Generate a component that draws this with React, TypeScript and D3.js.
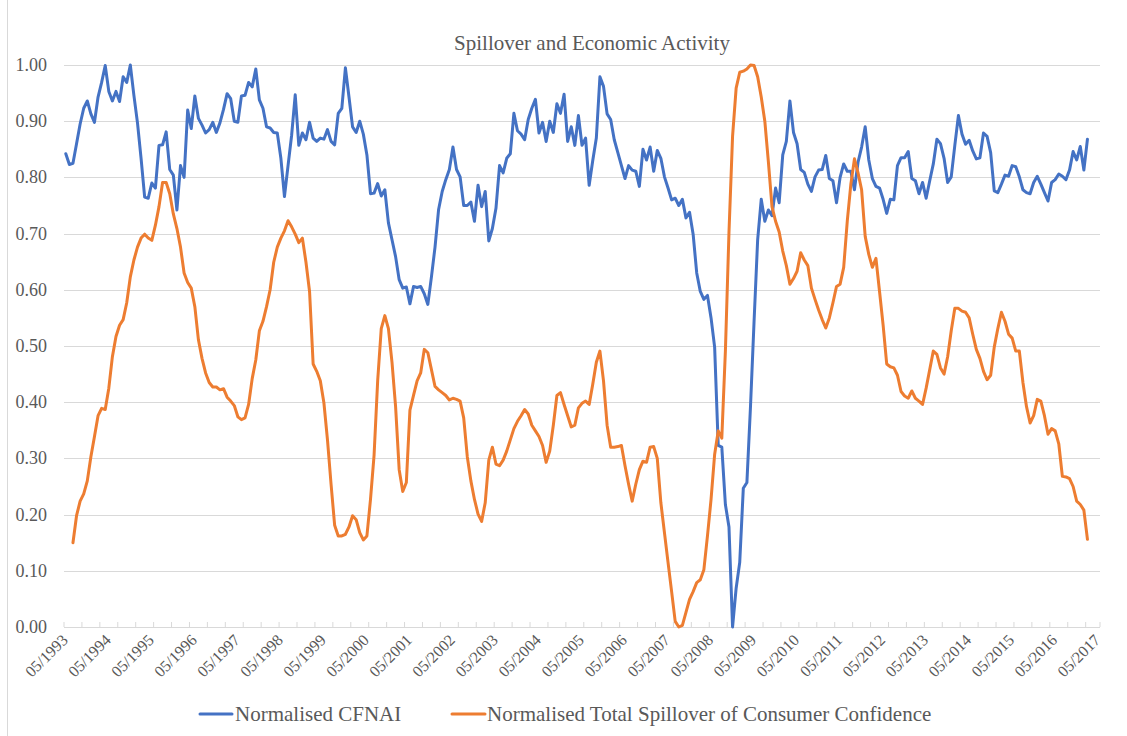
import React from 'react';
import * as d3 from 'd3';

// monthly, starting 05/1993 (index 0)
const cfnai = [
  0.842, 0.823, 0.825, 0.86, 0.895, 0.923, 0.936, 0.913, 0.898, 0.943,
  0.969, 0.999, 0.953, 0.936, 0.953, 0.935, 0.979, 0.969, 1.0, 0.946,
  0.897, 0.834, 0.765, 0.763, 0.79, 0.781, 0.857, 0.858, 0.881, 0.814,
  0.804, 0.742, 0.821, 0.8, 0.92, 0.887, 0.945, 0.905, 0.893, 0.879,
  0.885, 0.898, 0.88, 0.897, 0.921, 0.949, 0.94, 0.9, 0.898, 0.945,
  0.946, 0.969, 0.961, 0.993, 0.938, 0.923, 0.89, 0.888, 0.88, 0.879,
  0.834, 0.766, 0.821, 0.875, 0.947, 0.857, 0.879, 0.867, 0.898, 0.87,
  0.864, 0.87, 0.868, 0.885, 0.864, 0.858, 0.914, 0.923, 0.995, 0.943,
  0.89, 0.88, 0.9, 0.877, 0.84, 0.771, 0.772, 0.789, 0.767, 0.778,
  0.719, 0.689, 0.659, 0.618, 0.603, 0.605, 0.575, 0.606, 0.604, 0.606,
  0.593, 0.574, 0.623, 0.676, 0.743, 0.775, 0.796, 0.814, 0.854, 0.814,
  0.801, 0.75, 0.75, 0.756, 0.722, 0.786, 0.748, 0.775, 0.687, 0.709,
  0.745, 0.821, 0.808, 0.834, 0.842, 0.914, 0.883, 0.877, 0.867, 0.903,
  0.923, 0.939, 0.879, 0.898, 0.864, 0.9, 0.88, 0.931, 0.914, 0.948,
  0.864, 0.89, 0.857, 0.91, 0.857, 0.87, 0.786, 0.83, 0.87, 0.979,
  0.962, 0.913, 0.903, 0.867, 0.844, 0.821, 0.798, 0.821, 0.813, 0.811,
  0.784, 0.85, 0.831, 0.854, 0.811, 0.848, 0.834, 0.801, 0.781, 0.76,
  0.763, 0.75, 0.761, 0.728, 0.738, 0.699, 0.63, 0.597, 0.583, 0.59,
  0.55, 0.498, 0.323, 0.32, 0.218, 0.178, 0.0, 0.069, 0.115, 0.247,
  0.257, 0.392, 0.544, 0.689, 0.761, 0.722, 0.742, 0.732, 0.781, 0.755,
  0.84, 0.864, 0.936, 0.88, 0.86, 0.814, 0.809, 0.788, 0.775, 0.801,
  0.813, 0.814, 0.839, 0.798, 0.794, 0.755, 0.8, 0.824, 0.811, 0.811,
  0.778, 0.827, 0.854, 0.89, 0.831, 0.798, 0.784, 0.781, 0.761, 0.736,
  0.761, 0.76, 0.821, 0.835, 0.835, 0.846, 0.798, 0.794, 0.771, 0.791,
  0.763, 0.794, 0.824, 0.868, 0.86, 0.834, 0.791, 0.801, 0.857, 0.91,
  0.877, 0.859, 0.866, 0.847, 0.833, 0.835, 0.879, 0.873, 0.844, 0.776,
  0.773, 0.788, 0.804, 0.802, 0.821, 0.819, 0.801, 0.778, 0.773, 0.771,
  0.791, 0.802, 0.788, 0.773, 0.758, 0.791, 0.796, 0.806, 0.802, 0.796,
  0.813, 0.846, 0.831, 0.855, 0.813, 0.868,
];

// starts two months later (07/1993)
const spilloverStart = 2;
const spillover = [
  0.15, 0.198, 0.224, 0.237, 0.26, 0.303, 0.339, 0.376, 0.389, 0.387,
  0.425, 0.481, 0.517, 0.537, 0.547, 0.577, 0.623, 0.653, 0.676, 0.692,
  0.699, 0.692, 0.688, 0.715, 0.748, 0.791, 0.791, 0.771, 0.735, 0.709,
  0.676, 0.63, 0.613, 0.603, 0.57, 0.511, 0.478, 0.452, 0.435, 0.427,
  0.427, 0.422, 0.424, 0.409, 0.402, 0.394, 0.374, 0.369, 0.372, 0.396,
  0.442, 0.475, 0.527, 0.544, 0.57, 0.6, 0.649, 0.676, 0.692, 0.705,
  0.723, 0.712, 0.699, 0.684, 0.692, 0.649, 0.597, 0.468, 0.455, 0.438,
  0.399, 0.333, 0.254, 0.181, 0.162, 0.162, 0.165, 0.178, 0.198, 0.191,
  0.168, 0.155, 0.162, 0.227, 0.306, 0.438, 0.531, 0.554, 0.531, 0.471,
  0.392, 0.28, 0.241, 0.257, 0.386, 0.412, 0.438, 0.452, 0.494, 0.488,
  0.458, 0.428, 0.422, 0.417, 0.412, 0.404, 0.407, 0.405, 0.402, 0.372,
  0.303, 0.26, 0.227, 0.201, 0.188, 0.221, 0.297, 0.32, 0.29, 0.287,
  0.297, 0.313, 0.333, 0.353, 0.366, 0.376, 0.387, 0.379, 0.359, 0.349,
  0.339, 0.323, 0.293, 0.313, 0.359, 0.412, 0.417, 0.396, 0.376, 0.356,
  0.359, 0.39, 0.398, 0.402, 0.396, 0.432, 0.471, 0.491, 0.438, 0.359,
  0.32, 0.32, 0.321, 0.323, 0.287, 0.254, 0.224, 0.254, 0.28, 0.295,
  0.293, 0.32, 0.321, 0.3, 0.221, 0.168, 0.115, 0.063, 0.01, 0.0,
  0.003, 0.026, 0.049, 0.063, 0.079, 0.084, 0.102, 0.162, 0.227, 0.307,
  0.349, 0.336, 0.491, 0.702, 0.873, 0.959, 0.987, 0.989, 0.993, 1.0,
  0.999, 0.979, 0.943, 0.9, 0.827, 0.748, 0.722, 0.703, 0.669, 0.643,
  0.61, 0.62, 0.633, 0.666, 0.653, 0.643, 0.603, 0.583, 0.564, 0.547,
  0.532, 0.55, 0.577, 0.606, 0.61, 0.64, 0.722, 0.788, 0.833, 0.808,
  0.778, 0.695, 0.663, 0.64, 0.656, 0.597, 0.537, 0.468, 0.463, 0.461,
  0.448, 0.419, 0.411, 0.407, 0.42, 0.407, 0.402, 0.396, 0.425, 0.458,
  0.491, 0.485, 0.461, 0.45, 0.481, 0.527, 0.567, 0.567, 0.562, 0.56,
  0.55, 0.521, 0.494, 0.478, 0.455, 0.44, 0.448, 0.498, 0.531, 0.56,
  0.544, 0.521, 0.514, 0.491, 0.491, 0.435, 0.392, 0.363, 0.376, 0.405,
  0.402, 0.376, 0.343, 0.353, 0.349, 0.326, 0.268, 0.267, 0.264, 0.25,
  0.224, 0.218, 0.208, 0.156,
];

// category axis: 05/1993 .. 05/2017, one per month
const months = d3.range(289).map(i => {
  const m = ((4 + i) % 12) + 1;
  const y = 1993 + Math.floor((4 + i) / 12);
  return `${String(m).padStart(2, '0')}/${y}`;
});
const yTicks = [0, 0.1, 0.2, 0.3, 0.4, 0.5, 0.6, 0.7, 0.8, 0.9, 1.0];

const W = 1127;
const H = 736;
const FONT = '"Liberation Serif", "Times New Roman", serif';
const TXT = '#595959';
const GRID = '#d9d9d9';
const BLUE = '#4472C4';
const ORANGE = '#ED7D31';

export default function App() {
  const x = d3.scaleLinear().domain([-0.5, months.length - 0.5]).range([64, 1100]);
  const y = d3.scaleLinear().domain([0, 1]).range([627, 65]);

  const line = d3.line<[number, number]>()
    .x(d => x(d[0]))
    .y(d => y(d[1]));

  const bluePath = line(cfnai.map((v, i) => [i, v]));
  const orangePath = line(spillover.map((v, i) => [i + spilloverStart, v]));

  // tick marks every 5 categories
  const tickIdx = d3.range(0, months.length + 1, 5).concat([months.length]);

  return (
    <svg width={W} height={H} style={{ position: 'absolute', left: 0, top: 0, background: '#fff' }}
      fontFamily={FONT}>
      <rect x={0} y={0} width={W} height={H} fill="#fff" />
      <line x1={7.5} x2={7.5} y1={0} y2={H} stroke={GRID} strokeWidth={1} />

      <text x={592} y={50} textAnchor="middle" fontSize={21} fill={TXT}>
        Spillover and Economic Activity
      </text>

      {/* gridlines + y labels */}
      {yTicks.map(t => (
        <g key={t}>
          <line x1={64} x2={1100} y1={Math.round(y(t)) + 0.5} y2={Math.round(y(t)) + 0.5}
            stroke={GRID} strokeWidth={1} />
          <text x={47} y={y(t) + 6} textAnchor="end" fontSize={18} fill={TXT}>
            {t.toFixed(2)}
          </text>
        </g>
      ))}

      {/* x tick marks */}
      {tickIdx.map((k, j) => (
        <line key={j} x1={x(k - 0.5)} x2={x(k - 0.5)} y1={622} y2={627}
          stroke={GRID} strokeWidth={1} />
      ))}

      {/* x labels every 12 months */}
      {months.map((m, i) => i % 12 === 0 ? (
        <text key={m} transform={`translate(${x(i) + 3},${641}) rotate(-45)`}
          textAnchor="end" fontSize={16} fill={TXT}>
          {m}
        </text>
      ) : null)}

      <path d={bluePath || ''} fill="none" stroke={BLUE} strokeWidth={3} strokeLinejoin="round" strokeLinecap="round" />
      <path d={orangePath || ''} fill="none" stroke={ORANGE} strokeWidth={3} strokeLinejoin="round" strokeLinecap="round" />

      {/* legend */}
      <line x1={200} x2={232} y1={714} y2={714} stroke={BLUE} strokeWidth={3} strokeLinecap="round" />
      <text x={235} y={721} fontSize={21} fill={TXT}>Normalised CFNAI</text>
      <line x1={452} x2={485} y1={714} y2={714} stroke={ORANGE} strokeWidth={3} strokeLinecap="round" />
      <text x={487} y={721} fontSize={21} fill={TXT}>Normalised Total Spillover of Consumer Confidence</text>
    </svg>
  );
}
